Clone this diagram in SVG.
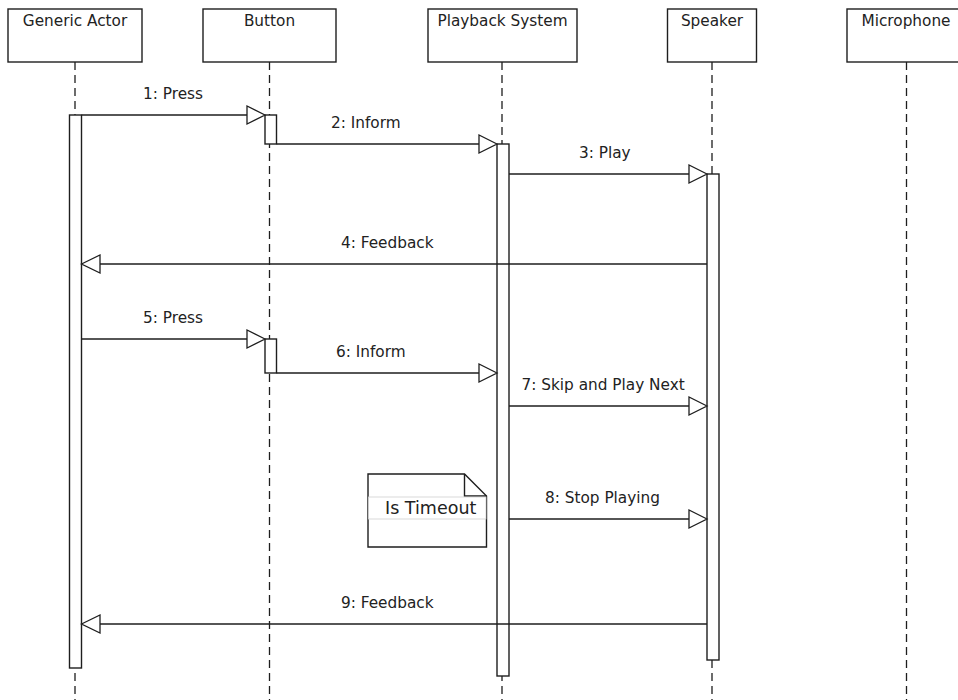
<svg xmlns="http://www.w3.org/2000/svg" width="958" height="700" viewBox="0 0 958 700">
  <style>
    .box { fill: #ffffff; stroke: #1e1e1e; stroke-width: 1.4; }
    .life { stroke: #1e1e1e; stroke-width: 1.3; stroke-dasharray: 8 5; fill: none; }
    .act { fill: #ffffff; stroke: #1e1e1e; stroke-width: 1.4; }
    .msg { stroke: #1e1e1e; stroke-width: 1.4; fill: none; }
    .head { fill: #ffffff; stroke: #1e1e1e; stroke-width: 1.3; }
    .t { font-family: "DejaVu Sans", "Liberation Sans", sans-serif; font-size: 15.3px; fill: #222222; }
    .c { text-anchor: middle; }
    .note-t { font-family: "DejaVu Sans", "Liberation Sans", sans-serif; font-size: 17.5px; fill: #222222; }
  </style>

  <!-- lifelines (drawn beneath everything) -->
  <g id="lifelines">
    <line class="life" x1="75" y1="62" x2="75" y2="700"/>
    <line class="life" x1="269.5" y1="62" x2="269.5" y2="700"/>
    <line class="life" x1="502" y1="62" x2="502" y2="700"/>
    <line class="life" x1="712" y1="62" x2="712" y2="700"/>
    <line class="life" x1="906.5" y1="62" x2="906.5" y2="700"/>
  </g>

  <g id="generic-actor">
    <rect class="box" x="8" y="9" width="134" height="53"/>
    <text class="t c" x="75" y="26">Generic Actor</text>
    <rect class="act" x="69.5" y="115" width="12" height="553"/>
  </g>

  <g id="button">
    <rect class="box" x="203" y="9" width="133" height="53"/>
    <text class="t c" x="269.5" y="26">Button</text>
    <rect class="act" x="265" y="115" width="11.5" height="29"/>
    <rect class="act" x="265" y="339" width="11.5" height="34"/>
  </g>

  <g id="playback-system">
    <rect class="box" x="428" y="9" width="149" height="53"/>
    <text class="t c" x="502.5" y="26">Playback System</text>
    <rect class="act" x="497" y="144" width="12" height="532"/>
  </g>

  <g id="speaker">
    <rect class="box" x="667.5" y="9" width="89" height="53"/>
    <text class="t c" x="712" y="26">Speaker</text>
    <rect class="act" x="707" y="174" width="12" height="486"/>
  </g>

  <g id="microphone">
    <rect class="box" x="847" y="9" width="120" height="53"/>
    <text class="t c" x="906" y="26">Microphone</text>
  </g>

  <g id="note-is-timeout">
    <path class="box" d="M368,474 H464.5 L486.5,496 V547 H368 Z"/>
    <path class="msg" d="M464.5,474 V496 L486.5,496"/>
    <rect x="368.5" y="497" width="117.5" height="22" fill="#ffffff" stroke="#d0d0d0" stroke-width="0.8"/>
    <text class="note-t" x="385" y="514">Is Timeout</text>
  </g>

  <!-- messages -->
  <g id="connectors">
    <line class="msg" x1="81.5" y1="115" x2="247" y2="115"/>
    <path class="head" d="M265,115 L247,106 L247,124 Z"/>
    <text class="t" x="143" y="99">1: Press</text>

    <line class="msg" x1="276.5" y1="144" x2="479" y2="144"/>
    <path class="head" d="M497,144 L479,135 L479,153 Z"/>
    <text class="t" x="331" y="128">2: Inform</text>

    <line class="msg" x1="509" y1="174" x2="689" y2="174"/>
    <path class="head" d="M707,174 L689,165 L689,183 Z"/>
    <text class="t" x="579" y="158">3: Play</text>

    <line class="msg" x1="707" y1="264" x2="100" y2="264"/>
    <path class="head" d="M81.5,264 L100,255 L100,273 Z"/>
    <text class="t" x="341" y="248">4: Feedback</text>

    <line class="msg" x1="81.5" y1="339" x2="247" y2="339"/>
    <path class="head" d="M265,339 L247,330 L247,348 Z"/>
    <text class="t" x="143" y="323">5: Press</text>

    <line class="msg" x1="276.5" y1="373" x2="479" y2="373"/>
    <path class="head" d="M497,373 L479,364 L479,382 Z"/>
    <text class="t" x="336" y="357">6: Inform</text>

    <line class="msg" x1="509" y1="406" x2="689" y2="406"/>
    <path class="head" d="M707,406 L689,397 L689,415 Z"/>
    <text class="t" x="521.5" y="390">7: Skip and Play Next</text>

    <line class="msg" x1="509" y1="519" x2="689" y2="519"/>
    <path class="head" d="M707,519 L689,510 L689,528 Z"/>
    <text class="t" x="545" y="503">8: Stop Playing</text>

    <line class="msg" x1="707" y1="624" x2="100" y2="624"/>
    <path class="head" d="M81.5,624 L100,615 L100,633 Z"/>
    <text class="t" x="341" y="608">9: Feedback</text>
  </g>
</svg>
